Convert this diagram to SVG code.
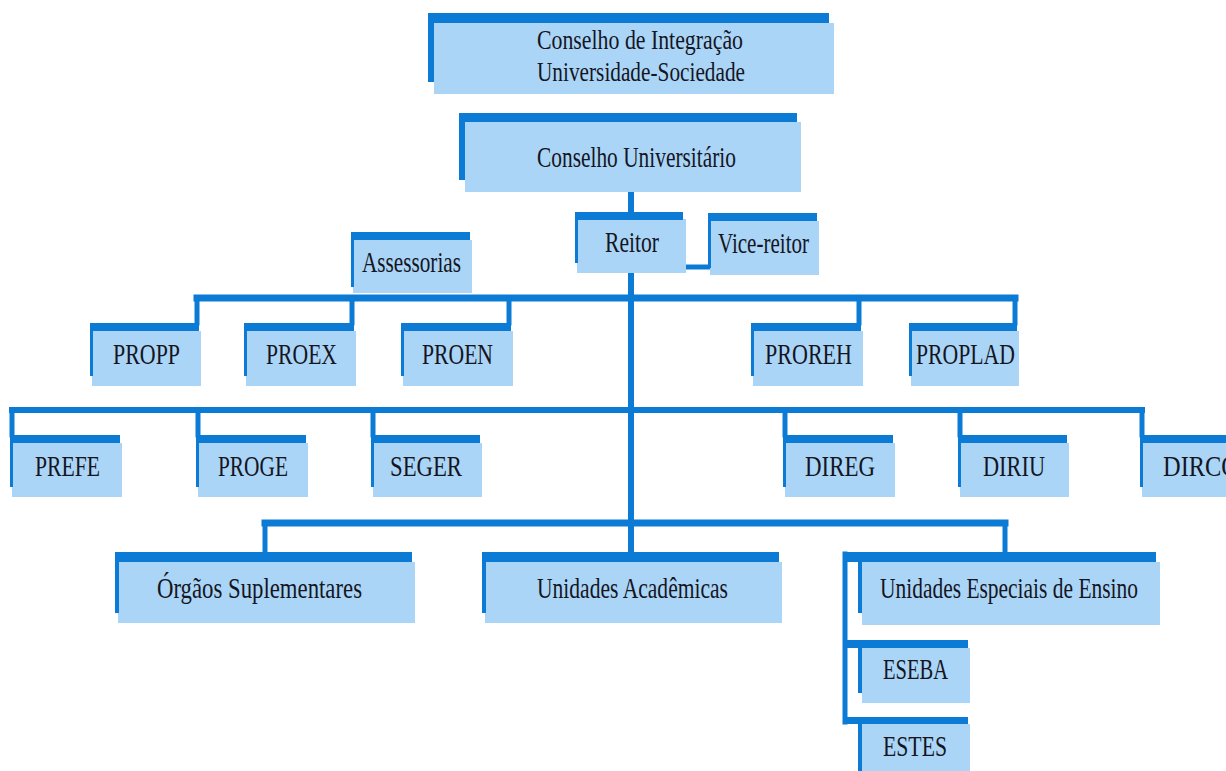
<svg xmlns="http://www.w3.org/2000/svg" width="1226" height="771" viewBox="0 0 1226 771">
<style>
.bg{fill:#ffffff}
.bar{fill:#0b7bd6}
.fill{fill:#aad5f7}
.ln{stroke:#0b7bd6;stroke-width:5;fill:none;stroke-linecap:square}
.t{font-family:"Liberation Serif","Times New Roman",serif;font-size:29px;fill:#15151f}
.t2{font-size:28px}
</style>
<rect class="bg" x="0" y="0" width="1226" height="771"/>

<g id="connectors">
  <line class="ln" x1="631" y1="192" x2="631" y2="212" style="stroke-width:6"/>
  <line class="ln" x1="631" y1="273" x2="631" y2="552" style="stroke-width:6"/>
  <line class="ln" x1="686" y1="267" x2="708" y2="267"/>
  <!-- row 1 -->
  <line class="ln" x1="197" y1="298" x2="1015" y2="298" style="stroke-width:7"/>
  <line class="ln" x1="197" y1="298" x2="197" y2="323"/>
  <line class="ln" x1="352" y1="298" x2="352" y2="323"/>
  <line class="ln" x1="509" y1="298" x2="509" y2="323"/>
  <line class="ln" x1="859" y1="298" x2="859" y2="323"/>
  <line class="ln" x1="1015" y1="298" x2="1015" y2="323"/>
  <!-- row 2 -->
  <line class="ln" x1="12" y1="410" x2="1142" y2="410" style="stroke-width:6"/>
  <line class="ln" x1="12" y1="410" x2="12" y2="435"/>
  <line class="ln" x1="198" y1="410" x2="198" y2="435"/>
  <line class="ln" x1="373" y1="410" x2="373" y2="435"/>
  <line class="ln" x1="785" y1="410" x2="785" y2="435"/>
  <line class="ln" x1="960" y1="410" x2="960" y2="435"/>
  <line class="ln" x1="1142" y1="410" x2="1142" y2="435"/>
  <!-- row 3 -->
  <line class="ln" x1="265" y1="523" x2="1005" y2="523" style="stroke-width:7"/>
  <line class="ln" x1="265" y1="523" x2="265" y2="552"/>
  <line class="ln" x1="1005" y1="523" x2="1005" y2="552"/>
  <!-- Unidades Especiais group -->
  <line class="ln" x1="845" y1="554" x2="845" y2="722"/>
</g>

<g id="conselho-integracao">
  <rect class="fill" x="434" y="23" width="400" height="71"/>
  <rect class="bar" x="428" y="13" width="401" height="10"/>
  <rect class="bar" x="428" y="13" width="6" height="69"/>
  <text class="t t2" x="537" y="49" textLength="206" lengthAdjust="spacingAndGlyphs">Conselho de Integração</text>
  <text class="t t2" x="537" y="81" textLength="208" lengthAdjust="spacingAndGlyphs">Universidade-Sociedade</text>
</g>

<g id="conselho-universitario">
  <rect class="fill" x="465" y="122" width="336" height="70"/>
  <rect class="bar" x="459" y="113" width="338" height="9"/>
  <rect class="bar" x="459" y="113" width="6" height="67"/>
  <text class="t" x="537" y="167" textLength="199" lengthAdjust="spacingAndGlyphs">Conselho  Universitário</text>
</g>

<g id="reitor">
  <rect class="fill" x="577" y="219" width="109" height="54"/>
  <rect class="bar" x="575" y="212" width="108" height="8"/>
  <rect class="bar" x="575" y="212" width="3" height="51"/>
  <text class="t" x="605" y="252" textLength="54" lengthAdjust="spacingAndGlyphs">Reitor</text>
</g>

<g id="vice-reitor">
  <rect class="fill" x="710" y="221" width="109" height="54"/>
  <rect class="bar" x="708" y="213" width="109" height="8"/>
  <rect class="bar" x="708" y="213" width="3" height="55"/>
  <text class="t" x="718" y="253" textLength="91" lengthAdjust="spacingAndGlyphs">Vice-reitor</text>
</g>

<g id="assessorias">
  <rect class="fill" x="353" y="240" width="119" height="53"/>
  <rect class="bar" x="351" y="232" width="119" height="8"/>
  <rect class="bar" x="351" y="232" width="3" height="55"/>
  <text class="t" x="362" y="272" textLength="99" lengthAdjust="spacingAndGlyphs">Assessorias</text>
</g>

<!-- row 1 -->
<g id="propp">
  <rect class="fill" x="92" y="331" width="109" height="55"/>
  <rect class="bar" x="90" y="323" width="109" height="8"/>
  <rect class="bar" x="90" y="323" width="3" height="53"/>
  <text class="t" x="113" y="364" textLength="67" lengthAdjust="spacingAndGlyphs">PROPP</text>
</g>
<g id="proex">
  <rect class="fill" x="246" y="331" width="110" height="55"/>
  <rect class="bar" x="244" y="323" width="110" height="8"/>
  <rect class="bar" x="244" y="323" width="3" height="53"/>
  <text class="t" x="266" y="364" textLength="71" lengthAdjust="spacingAndGlyphs">PROEX</text>
</g>
<g id="proen">
  <rect class="fill" x="403" y="331" width="110" height="55"/>
  <rect class="bar" x="401" y="323" width="110" height="8"/>
  <rect class="bar" x="401" y="323" width="3" height="53"/>
  <text class="t" x="422" y="364" textLength="71" lengthAdjust="spacingAndGlyphs">PROEN</text>
</g>
<g id="proreh">
  <rect class="fill" x="753" y="331" width="110" height="55"/>
  <rect class="bar" x="751" y="323" width="110" height="8"/>
  <rect class="bar" x="751" y="323" width="3" height="53"/>
  <text class="t" x="765" y="364" textLength="87" lengthAdjust="spacingAndGlyphs">PROREH</text>
</g>
<g id="proplad">
  <rect class="fill" x="911" y="331" width="108" height="55"/>
  <rect class="bar" x="909" y="323" width="108" height="8"/>
  <rect class="bar" x="909" y="323" width="3" height="53"/>
  <text class="t" x="916" y="364" textLength="99" lengthAdjust="spacingAndGlyphs">PROPLAD</text>
</g>

<!-- row 2 -->
<g id="prefe">
  <rect class="fill" x="12" y="443" width="110" height="54"/>
  <rect class="bar" x="10" y="435" width="110" height="8"/>
  <rect class="bar" x="10" y="435" width="3" height="52"/>
  <text class="t" x="35" y="476" textLength="65" lengthAdjust="spacingAndGlyphs">PREFE</text>
</g>
<g id="proge">
  <rect class="fill" x="198" y="443" width="110" height="54"/>
  <rect class="bar" x="196" y="435" width="110" height="8"/>
  <rect class="bar" x="196" y="435" width="3" height="52"/>
  <text class="t" x="218" y="476" textLength="70" lengthAdjust="spacingAndGlyphs">PROGE</text>
</g>
<g id="seger">
  <rect class="fill" x="373" y="443" width="109" height="54"/>
  <rect class="bar" x="371" y="435" width="109" height="8"/>
  <rect class="bar" x="371" y="435" width="3" height="52"/>
  <text class="t" x="390" y="476" textLength="72" lengthAdjust="spacingAndGlyphs">SEGER</text>
</g>
<g id="direg">
  <rect class="fill" x="785" y="443" width="110" height="54"/>
  <rect class="bar" x="783" y="435" width="110" height="8"/>
  <rect class="bar" x="783" y="435" width="3" height="52"/>
  <text class="t" x="805" y="476" textLength="70" lengthAdjust="spacingAndGlyphs">DIREG</text>
</g>
<g id="diriu">
  <rect class="fill" x="960" y="443" width="109" height="54"/>
  <rect class="bar" x="958" y="435" width="109" height="8"/>
  <rect class="bar" x="958" y="435" width="3" height="52"/>
  <text class="t" x="983" y="476" textLength="62" lengthAdjust="spacingAndGlyphs">DIRIU</text>
</g>
<g id="dirco">
  <rect class="fill" x="1142" y="443" width="100" height="54"/>
  <rect class="bar" x="1140" y="435" width="100" height="8"/>
  <rect class="bar" x="1140" y="435" width="3" height="52"/>
  <text class="t" x="1163" y="476" textLength="76" lengthAdjust="spacingAndGlyphs">DIRCO</text>
</g>

<!-- row 3 -->
<g id="orgaos-suplementares">
  <rect class="fill" x="118" y="562" width="297" height="61"/>
  <rect class="bar" x="115" y="552" width="297" height="10"/>
  <rect class="bar" x="115" y="552" width="4" height="61"/>
  <text class="t" x="157" y="598" textLength="205" lengthAdjust="spacingAndGlyphs">Órgãos Suplementares</text>
</g>
<g id="unidades-academicas">
  <rect class="fill" x="485" y="562" width="297" height="61"/>
  <rect class="bar" x="482" y="552" width="297" height="10"/>
  <rect class="bar" x="482" y="552" width="4" height="61"/>
  <text class="t" x="537" y="598" textLength="191" lengthAdjust="spacingAndGlyphs">Unidades Acadêmicas</text>
</g>
<g id="unidades-especiais">
  <rect class="fill" x="862" y="562" width="298" height="63"/>
  <rect class="bar" x="843" y="552" width="313" height="10"/>
  <rect class="bar" x="858" y="562" width="4" height="51"/>
  <text class="t" x="880" y="598" textLength="258" lengthAdjust="spacingAndGlyphs">Unidades Especiais de Ensino</text>
</g>
<g id="eseba">
  <rect class="fill" x="862" y="648" width="108" height="55"/>
  <rect class="bar" x="843" y="640" width="125" height="8"/>
  <rect class="bar" x="858" y="648" width="4" height="45"/>
  <text class="t" x="883" y="679" textLength="65" lengthAdjust="spacingAndGlyphs">ESEBA</text>
</g>
<g id="estes">
  <rect class="fill" x="862" y="724" width="108" height="50"/>
  <rect class="bar" x="843" y="717" width="125" height="7"/>
  <rect class="bar" x="858" y="724" width="4" height="50"/>
  <text class="t" x="883" y="756" textLength="64" lengthAdjust="spacingAndGlyphs">ESTES</text>
</g>
</svg>
